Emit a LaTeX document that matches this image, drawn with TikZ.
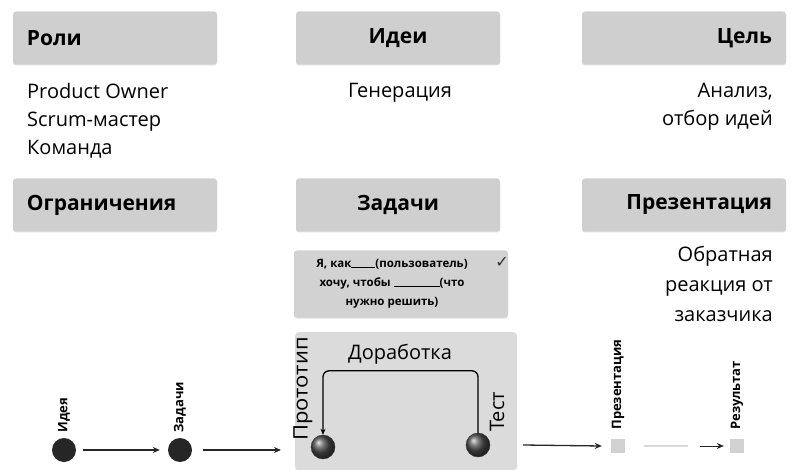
\documentclass[tikz,border=0pt]{standalone}
\usepackage{fontspec}
\setmainfont{Open Sans}
\newfontfamily\symfont{DejaVu Sans}
\usetikzlibrary{arrows.meta,shadows,calc}
\begin{document}
\begin{tikzpicture}[x=1pt,y=-1pt,
  hdr/.style={draw=none,fill=gray!38,rounded corners=3pt,minimum height=53pt,minimum width=204pt,
    drop shadow={shadow xshift=0pt,shadow yshift=-1pt,opacity=0.25},font=\fontsize{21}{24}\selectfont\bfseries},
  hdrtxt/.style={inner sep=0pt,font=\fontsize{21}{24}\selectfont\bfseries},
  body/.style={font=\fontsize{20}{28}\selectfont,inner sep=0pt},
  ball/.style={circle,minimum size=24pt,inner sep=0pt,ball color=black!70,draw=black!80},
  dot/.style={circle,fill=black!85,minimum size=24pt,inner sep=0pt},
  sq/.style={fill=gray!35,minimum size=14pt,inner sep=0pt},
  vlab/.style={rotate=90,anchor=west,inner sep=0pt,font=\fontsize{13}{15}\selectfont\bfseries},
  conn/.style={-{Stealth[length=7pt,width=6pt]},line width=1.3pt,black!85}]
\useasboundingbox (0,0) rectangle (800,470);
% header boxes
\node[hdr] (roli) at (115,38) {};
\node[hdrtxt,anchor=west] (roliT) at ([xshift=14pt]roli.west) {Роли};
\node[hdr] (idei) at (398,38) {Идеи};
\node[hdr] (cel) at (684,38) {};
\node[hdrtxt,anchor=east] (celT) at ([xshift=-14pt]cel.east) {Цель};
\node[hdr] (ogr) at (115,205) {};
\node[hdrtxt,anchor=west] (ogrT) at ([xshift=14pt]ogr.west) {Ограничения};
\node[hdr] (zad) at (398,205) {Задачи};
\node[hdr] (prez) at (684,205) {};
\node[hdrtxt,anchor=east] (prezT) at ([xshift=-14pt]prez.east) {Презентация};
% body texts
\node[body,anchor=north west,align=left] (rolitxt) at (27,83) {Product Owner\\Scrum-мастер\\Команда};
\node[body,anchor=north] (gen) at (400,83) {Генерация};
\node[body,anchor=north east,align=right] (analiz) at (773,83) {Анализ,\\отбор идей};
\node[body,anchor=north east,align=right,font=\fontsize{20}{30}\selectfont] (obr) at (773,246) {Обратная\\реакция от\\заказчика};
% task box
\node[draw=none,fill=gray!35,rounded corners=3pt,minimum width=214pt,minimum height=67pt,
  drop shadow={shadow xshift=0pt,shadow yshift=-1pt,opacity=0.25}] (task) at (401,284) {};
\node[align=center,inner sep=0pt,font=\fontsize{11.5}{19}\selectfont\bfseries] (tasktxt) at (392,284)
  {Я, как\rule{24pt}{0.8pt}(пользователь)\\хочу, чтобы \rule{46pt}{0.8pt}(что\\нужно решить)};
\node[font=\symfont\fontsize{16}{17}\selectfont,inner sep=0pt,black!80] (tick) at (502,262) {✓};
% prototype box
\node[draw=none,fill=gray!28,rounded corners=4pt,minimum width=222pt,minimum height=138pt,
  drop shadow={shadow xshift=0pt,shadow yshift=-1pt,opacity=0.2}] (proto) at (406,401) {};
\node[font=\fontsize{20}{24}\selectfont,inner sep=0pt] (dor) at (400,354) {Доработка};
\node[ball] (pc) at (323,447) {};
\node[ball] (tc) at (478,445) {};
\node[vlab,font=\fontsize{20}{24}\selectfont] (pl) at (303,441) {\scalebox{1.1}[1]{Прототип}};
\node[vlab,font=\fontsize{20}{24}\selectfont] (tl) at (497,432) {Тест};
\draw[line width=1.3pt,rounded corners=6pt,-{Stealth[length=6pt,width=5pt]}] (tc.north) -- ++(0,-62) -| (pc.north);
% bottom line
\node[dot] (idea) at (64,450) {};
\node[vlab] (ideaL) at ([yshift=5pt]idea.north) {Идея};
\node[dot] (zd) at (180,450) {};
\node[vlab] (zdL) at ([yshift=5pt]zd.north) {Задачи};
\coordinate (in1) at (281,450);
\draw[conn] ([xshift=7pt]idea.east) -- ([xshift=-8pt]zd.west);
\draw[conn] ([xshift=11pt]zd.east) -- (in1);
\node[sq] (ps) at (618,446) {};
\node[vlab] (psL) at ([yshift=9pt]ps.north) {Презентация};
\node[sq] (rs) at (737,446) {};
\node[vlab] (rsL) at ([yshift=9pt]rs.north) {Результат};
\coordinate (out1) at (523,445);
\draw[conn] (out1) -- ([xshift=-9pt]ps.west);
\draw[line width=1.3pt,gray!30] ([xshift=19pt]ps.east) -- ([xshift=-42pt]rs.west);
\draw[conn,line width=1pt] ([xshift=-30pt]rs.west) -- ([xshift=-6pt]rs.west);
\end{tikzpicture}
\end{document}
